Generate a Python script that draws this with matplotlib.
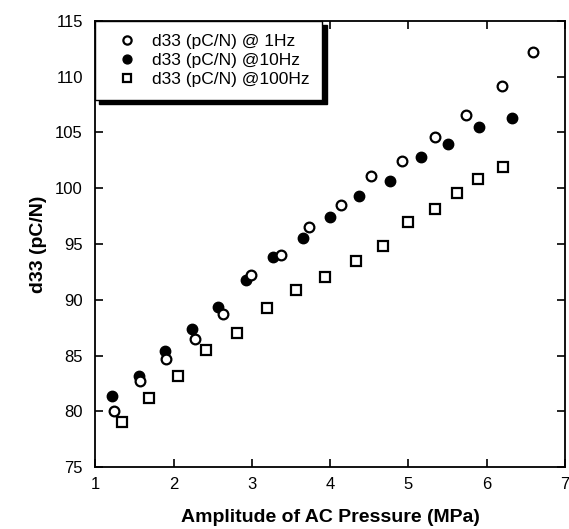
import matplotlib
matplotlib.use("Agg")
import matplotlib.pyplot as plt

plt.rcParams['font.family'] = ['Liberation Sans', 'DejaVu Sans']

x_1hz = [1.235, 1.571, 1.903, 2.27, 2.635, 2.988, 3.372, 3.733, 4.134, 4.525, 4.92, 5.335, 5.738, 6.19, 6.586]
y_1hz = [80.0, 82.77, 84.74, 86.53, 88.77, 92.26, 94.05, 96.5, 98.5, 101.1, 102.44, 104.59, 106.56, 109.15, 112.17]

x_10hz = [1.217, 1.554, 1.89, 2.239, 2.571, 2.92, 3.273, 3.649, 4.001, 4.368, 4.76, 5.156, 5.508, 5.904, 6.318]
y_10hz = [81.37, 83.19, 85.4, 87.37, 89.37, 91.79, 93.82, 95.55, 97.43, 99.33, 100.68, 102.82, 103.99, 105.48, 106.32]

x_100hz = [1.337, 1.69, 2.052, 2.418, 2.806, 3.189, 3.559, 3.937, 4.326, 4.674, 4.99, 5.338, 5.616, 5.891, 6.203]
y_100hz = [79.1, 81.22, 83.19, 85.52, 87.07, 89.25, 90.89, 92.08, 93.51, 94.86, 96.98, 98.17, 99.55, 100.83, 101.9]

labels = ['d33 (pC/N) @ 1Hz', 'd33 (pC/N) @10Hz', 'd33 (pC/N) @100Hz']
x_ticks = [1, 2, 3, 4, 5, 6, 7]
y_ticks = [75, 80, 85, 90, 95, 100, 105, 110, 115]

fig = plt.figure(figsize=(5.69, 5.29), dpi=100)
ax = fig.add_axes([0.1675, 0.1166, 0.993 - 0.1675, 0.9609 - 0.1166])

ax.plot(x_1hz, y_1hz, 'o', ms=7, mfc='white', mec='black', mew=1.6, label=labels[0], zorder=3)
ax.plot(x_10hz, y_10hz, 'o', ms=7.5, mfc='black', mec='black', mew=1.0, label=labels[1], zorder=2)
ax.plot(x_100hz, y_100hz, 's', ms=7, mfc='white', mec='black', mew=1.6, label=labels[2], zorder=3)

ax.set_xlim(1, 7)
ax.set_ylim(75, 115)
ax.set_xticks(x_ticks)
ax.set_yticks(y_ticks)
ax.tick_params(direction='in', length=6, width=1.2, top=True, right=True,
               labelsize=12, color='black')
ax.tick_params(axis='y', pad=9)
ax.tick_params(axis='x', pad=7)
for s in ax.spines.values():
    s.set_linewidth(1.3)

ax.set_xlabel('Amplitude of AC Pressure (MPa)', fontsize=14, fontweight='bold', labelpad=12)
ax.set_ylabel('d33 (pC/N)', fontsize=14, fontweight='bold', labelpad=6)

leg = ax.legend(loc='upper left', bbox_to_anchor=(0, 1), borderaxespad=0,
                fancybox=False, frameon=True, fontsize=12.5, handlelength=2.15,
                handletextpad=0.35, borderpad=0.75, labelspacing=0.22,
                markerscale=0.85,
                shadow={'ox': 3, 'oy': -3, 'color': 'black', 'alpha': 1})
leg.get_frame().set_edgecolor('black')
leg.get_frame().set_linewidth(1.0)
leg.get_frame().set_alpha(1)

fig.savefig('out.png', dpi=100)
